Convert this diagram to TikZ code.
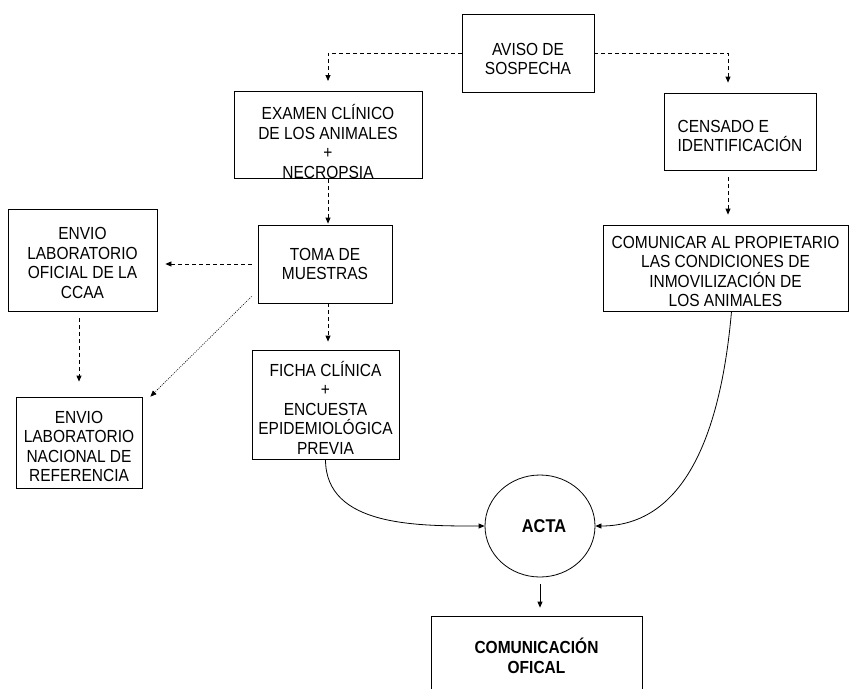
\documentclass[tikz,border=0pt]{standalone}
\usepackage{fontspec}
\setmainfont{Liberation Sans}[FakeStretch=0.885]
\usetikzlibrary{arrows.meta,shapes.geometric}
\newcommand\dn[1]{\rule{0pt}{#1}}
\begin{document}
\begin{tikzpicture}[x=1pt,y=-1pt,
  box/.style={draw, line width=0.8pt, inner sep=0pt, align=center, font=\fontsize{17.5pt}{19.5pt}\selectfont},
  tip/.style={-{Triangle[length=6pt,width=5pt]}},
  dline/.style={line width=0.8pt, dash pattern=on 4pt off 3pt, tip},
  sline/.style={line width=0.8pt, tip},
  dotline/.style={line width=0.6pt, dash pattern=on 1pt off 1.2pt, tip}]
\useasboundingbox (0,0) rectangle (850,688);
\fill[white] (0,0) rectangle (850,688);
\node[box, minimum width=132pt, minimum height=78pt] (aviso) at (528,53) {\dn{24.5pt}AVISO DE\\SOSPECHA};
\node[box, minimum width=188pt, minimum height=86pt] (examen) at (328,135) {\dn{28.5pt}EXAMEN CLÍNICO\\DE LOS ANIMALES\\+\\NECROPSIA};
\node[box, align=left, minimum width=152pt, minimum height=77pt] (censado) at (740,131.5) {\dn{21.5pt}CENSADO E\\IDENTIFICACIÓN};
\node[box, minimum width=134pt, minimum height=78pt] (toma) at (325,264) {TOMA DE\\MUESTRAS};
\node[box, minimum width=149pt, minimum height=102pt] (ccaa) at (82.5,260) {\dn{18.5pt}ENVIO\\LABORATORIO\\OFICIAL DE LA\\CCAA};
\node[box, minimum width=126pt, minimum height=91pt] (nac) at (79,442.5) {\dn{20.5pt}ENVIO\\LABORATORIO\\NACIONAL DE\\REFERENCIA};
\node[box, minimum width=147pt, minimum height=109pt] (ficha) at (325.5,404.5) {\dn{21.8pt}FICHA CLÍNICA\\+\\ENCUESTA\\EPIDEMIOLÓGICA\\PREVIA};
\node[box, minimum width=245pt, minimum height=86pt] (com) at (725.5,268) {\dn{19.5pt}COMUNICAR AL PROPIETARIO\\LAS CONDICIONES DE\\INMOVILIZACIÓN DE\\LOS ANIMALES};
\node[box, ellipse, minimum width=110pt, minimum height=102pt, font=\fontsize{18.5pt}{20pt}\selectfont\bfseries] (acta) at (540,526) {\hspace{8pt}ACTA};
\node[box, minimum width=211pt, minimum height=80pt, font=\fontsize{17.5pt}{19.5pt}\selectfont\bfseries] (oficial) at (536.5,656) {COMUNICACIÓN\\OFICAL};

\draw[dline, shorten >=10pt] (aviso.west) -| (examen.north);
\draw[dline, shorten >=10pt] (aviso.east) -| ([xshift=-12pt]censado.north);
\draw[dline, shorten >=1pt] (examen.south) -- (examen.south |- toma.north);
\draw[dline, shorten <=6pt, shorten >=8pt] (toma.west) -- (toma.west -| ccaa.east);
\draw[dline, shorten <=7pt, shorten >=15pt] (ccaa.south -| nac.north) -- (nac.north);
\draw[dotline] ([xshift=-6pt,yshift=7pt]toma.south west) -- ([xshift=8pt]nac.north east);
\draw[dline, shorten >=8pt] ([xshift=3pt]toma.south) -- ([xshift=3pt]toma.south |- ficha.north);
\draw[dline, shorten <=7pt, shorten >=10pt] ([xshift=-12pt]censado.south) -- ([xshift=-12pt]censado.south |- com.north);
\draw[sline] (ficha.south) to[out=-90,in=180] (acta.west);
\draw[sline] ([xshift=6pt]com.south) to[out=-95,in=0] (acta.east);
\draw[sline, shorten <=7pt, shorten >=8pt] (acta.south) -- (acta.south |- oficial.north);
\end{tikzpicture}
\end{document}
